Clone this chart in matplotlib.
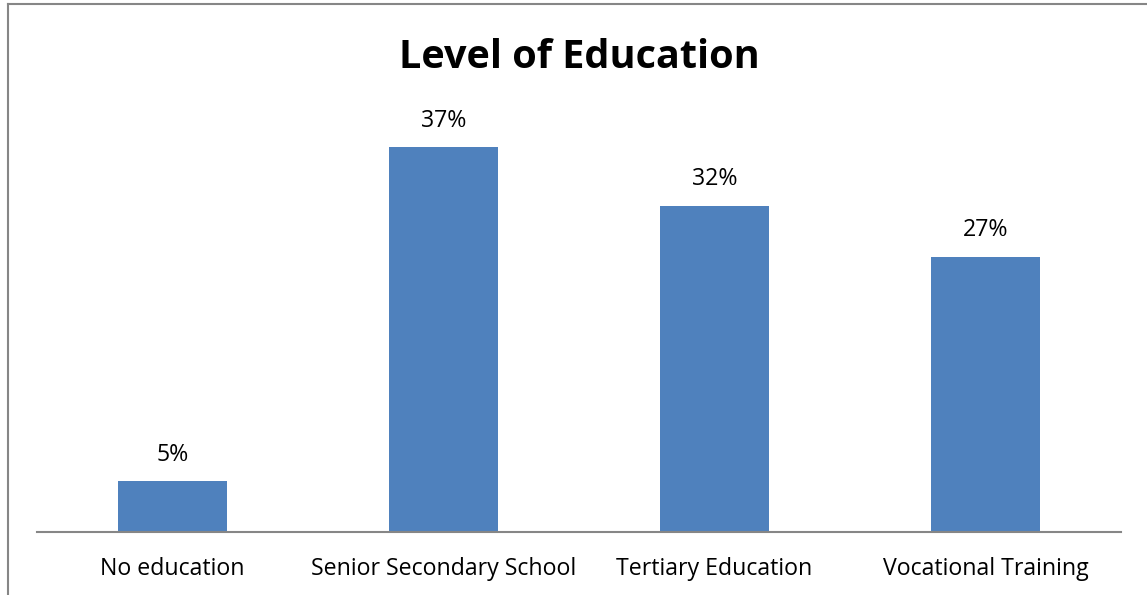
import matplotlib
matplotlib.use("Agg")
import matplotlib.pyplot as plt
from matplotlib.lines import Line2D

categories = ["No education", "Senior Secondary School", "Tertiary Education", "Vocational Training"]
values = [5, 37.7, 32, 27]
labels = ["5%", "37%", "32%", "27%"]

W, H = 1147, 595
fig = plt.figure(figsize=(W/100, H/100), dpi=100)
plt.rcParams['font.family'] = ['Open Sans', 'DejaVu Sans']

left, right = 37, 1121
base = 532
scale = 10.2  # px per percent
top_px = 100
ymax = (base - top_px) / scale
ax = fig.add_axes([left/W, 1 - base/H, (right-left)/W, (base-top_px)/H])
x = range(len(categories))
ax.bar(x, values, width=0.4, color="#4F81BD")
ax.set_xlim(-0.5, 3.5)
ax.set_ylim(0, ymax)
for s in ["top", "right", "left"]:
    ax.spines[s].set_visible(False)
ax.spines["bottom"].set_color("#868686")
ax.spines["bottom"].set_linewidth(1.5)
ax.set_yticks([])
ax.set_xticks(list(x))
ax.set_xticklabels(categories, fontsize=16.7)
ax.tick_params(axis="x", length=0, pad=18)
for i, (v, l) in enumerate(zip(values, labels)):
    ax.annotate(l, (i, v), xytext=(0, 19), textcoords="offset points", ha="center", va="center", fontsize=16.7)

fig.text(579/W, 1 - 57/H, "Level of Education", ha="center", va="center", fontsize=28.5, fontweight="bold")

fig.add_artist(Line2D([8/W, 8/W], [0, 1 - 4/H], transform=fig.transFigure, color="#868686", lw=1.5))
fig.add_artist(Line2D([8/W, 1], [1 - 4/H, 1 - 4/H], transform=fig.transFigure, color="#868686", lw=1.5))

fig.savefig("out.png", dpi=100)
